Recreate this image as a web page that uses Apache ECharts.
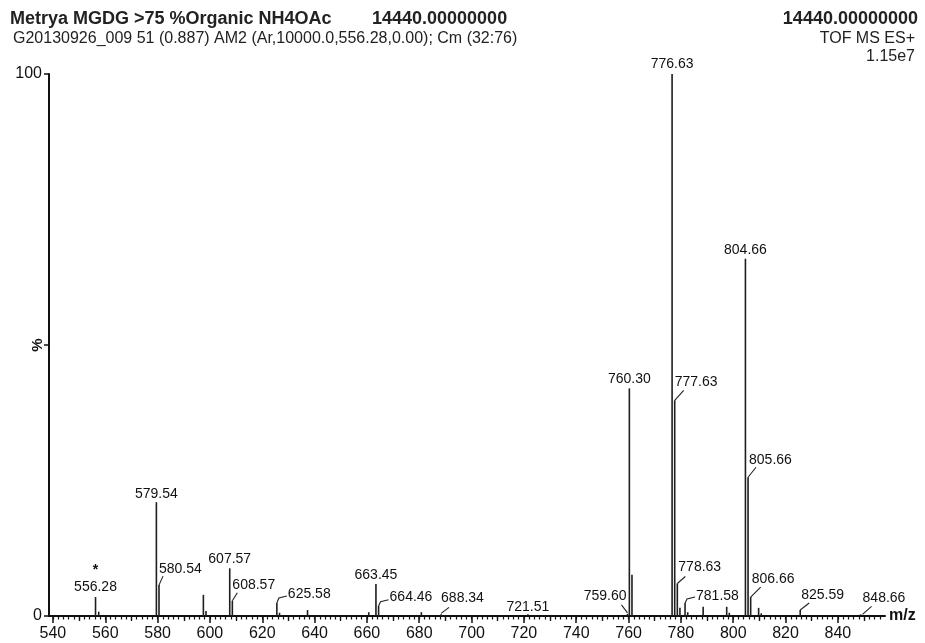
<!DOCTYPE html>
<html>
<head>
<meta charset="utf-8">
<script src="https://cdn.jsdelivr.net/npm/echarts@6/dist/echarts.min.js"></script>
<style>html,body{margin:0;padding:0;background:#fff}#c{width:925px;height:643px}</style>
</head>
<body>
<div id="c"></div>
<script>
// ---- data ----
const peakMz = [556.28, 557.50, 579.54, 580.54, 597.50, 598.50, 607.57, 608.57, 625.58, 626.60,
  637.30, 660.70, 663.45, 664.46, 680.80, 688.34, 721.51, 759.60, 760.30, 761.30,
  776.63, 777.63, 778.63, 779.63, 781.58, 782.60, 788.50, 797.50, 798.50, 804.66,
  805.66, 806.66, 809.70, 810.70, 825.59, 848.66];
const peakPct = [3.5, 0.8, 21.0, 5.7, 3.9, 0.9, 8.8, 2.8, 2.4, 0.6,
  1.1, 0.7, 5.9, 1.9, 0.7, 0.3, 0.3, 0.4, 42.0, 7.6,
  100, 39.8, 6.0, 1.5, 2.4, 0.7, 1.7, 1.7, 0.6, 65.9,
  25.6, 3.5, 1.5, 0.5, 1.1, 0.3];
const labelledMz = [556.28, 579.54, 580.54, 607.57, 608.57, 625.58, 663.45, 664.46, 688.34, 721.51,
  759.60, 760.30, 776.63, 777.63, 778.63, 781.58, 804.66, 805.66, 806.66, 825.59, 848.66];
const markedMz = [556.28];               // peaks flagged with an asterisk
const xMajorTicks = [540, 560, 580, 600, 620, 640, 660, 680, 700, 720, 740, 760, 780, 800, 820, 840];
const yTicks = [0, 50, 100];
const yLabelTicks = [0, 100];
const headerLeft1 = 'Metrya MGDG >75 %Organic NH4OAc';
const headerMid1 = '14440.00000000';
const headerRight1 = '14440.00000000';
const headerLeft2 = 'G20130926_009 51 (0.887) AM2 (Ar,10000.0,556.28,0.00); Cm (32:76)';
const headerRight2 = 'TOF MS ES+';
const headerRight3 = '1.15e7';
const xName = 'm/z';
const yName = '%';

// ---- label layout (styles, pixel offsets from the stick top) ----
const labelLayout = {
  '556.28': {mode: 'top', dy: -9.5},
  '579.54': {mode: 'top', dy: -8},
  '580.54': {lead: [[0, 0], [4, -9]], dx: 0, dy: -16},
  '607.57': {mode: 'top', dy: -9},
  '608.57': {lead: [[0, 0], [5, -8]], dx: 0, dy: -15.5},
  '625.58': {lead: [[0, 0], [2, -5], [10, -7]], dx: 11, dy: -9},
  '663.45': {mode: 'top', dy: -8.5},
  '664.46': {lead: [[0, 0], [2, -4], [10, -6]], dx: 11, dy: -8.5},
  '688.34': {lead: [[0, -1], [8, -7]], dx: 0, dy: -16.5},
  '721.51': {mode: 'top', dy: -7},
  '759.60': {lead: [[0, -1], [-6, -9]], dx: -1, dy: -17.5, align: 'right'},
  '760.30': {mode: 'top', dy: -9},
  '776.63': {mode: 'top', dy: -10},
  '777.63': {lead: [[0, 0], [9, -10]], dx: 0, dy: -18},
  '778.63': {lead: [[0, 0], [8, -7]], dx: 1, dy: -16.5},
  '781.58': {lead: [[0, 0], [2, -4], [10, -6]], dx: 11, dy: -7},
  '804.66': {mode: 'top', dy: -9},
  '805.66': {lead: [[0, 0], [8, -10]], dx: 1, dy: -17.5},
  '806.66': {lead: [[0, 0], [10, -10]], dx: 1, dy: -18},
  '825.59': {lead: [[0, 0], [9, -7]], dx: 1, dy: -15},
  '848.66': {lead: [[2, 0], [11, -8]], dx: 2, dy: -16.5}
};

const FONT = '"Liberation Sans", Arial, Helvetica, sans-serif';
const INK = '#111';
const X_MIN = 538.5, X_MAX = 858;

const peakData = peakMz.map((m, i) => [m, peakPct[i]]);
const labelData = labelledMz.map(m => [m, peakPct[peakMz.indexOf(m)]]);

function range(a, b, step) { const r = []; for (let v = a; v <= b + 1e-9; v += step) r.push(+v.toFixed(3)); return r; }
const xMidTicks = range(550, 850, 20);
const xMinorTicks = range(540, 856, 2);

function xAxisBase(extra) {
  return Object.assign({
    type: 'value', min: X_MIN, max: X_MAX, position: 'bottom',
    splitLine: {show: false}, axisLine: {show: false},
    axisLabel: {show: false}, axisTick: {show: false}
  }, extra);
}

const chart = echarts.init(document.getElementById('c'), null, {renderer: 'canvas'});
chart.setOption({
  animation: false,
  backgroundColor: '#fff',
  grid: {left: 49, right: 40, top: 74, bottom: 27, containLabel: false, outerBoundsMode: 'none'},
  xAxis: [
    xAxisBase({
      name: xName, nameLocation: 'end', nameGap: 4,
      nameTextStyle: {color: INK, fontFamily: FONT, fontSize: 16, fontWeight: 'bold', verticalAlign: 'middle'},
      axisLine: {show: true, onZero: false, lineStyle: {color: INK, width: 2}},
      axisTick: {show: true, customValues: xMajorTicks, length: 7, lineStyle: {color: INK, width: 1.5}},
      axisLabel: {show: true, customValues: xMajorTicks, margin: 10, color: INK, fontFamily: FONT, fontSize: 16}
    }),
    xAxisBase({axisTick: {show: true, customValues: xMidTicks, length: 5, lineStyle: {color: INK, width: 1.3}}}),
    xAxisBase({axisTick: {show: true, customValues: xMinorTicks, length: 3.5, lineStyle: {color: INK, width: 1.2}}})
  ],
  yAxis: {
    type: 'value', min: 0, max: 100,
    name: yName, nameLocation: 'middle', nameRotate: 90, nameGap: 4, nameMoveOverlap: false,
    nameTextStyle: {color: INK, fontFamily: FONT, fontSize: 15, fontWeight: 'bold'},
    splitLine: {show: false},
    axisLine: {show: true, lineStyle: {color: INK, width: 2}},
    axisTick: {show: true, customValues: yTicks, length: 5, lineStyle: {color: INK, width: 1.5}},
    axisLabel: {show: true, customValues: yLabelTicks, margin: 7, color: INK, fontFamily: FONT, fontSize: 16}
  },
  graphic: [
    {type: 'text', left: 10, top: 10, style: {text: headerLeft1, font: 'bold 18px ' + FONT, fill: '#222'}},
    {type: 'text', left: 372, top: 10, style: {text: headerMid1, font: 'bold 18px ' + FONT, fill: '#222'}},
    {type: 'text', right: 7, top: 10, style: {text: headerRight1, font: 'bold 18px ' + FONT, fill: '#222'}},
    {type: 'text', left: 13, top: 31, style: {text: headerLeft2, font: '16px ' + FONT, fill: '#222'}},
    {type: 'text', right: 10, top: 31, style: {text: headerRight2, font: '16px ' + FONT, fill: '#222'}},
    {type: 'text', right: 10, top: 49, style: {text: headerRight3, font: '16px ' + FONT, fill: '#222'}}
  ],
  series: [
    {
      type: 'custom', name: 'spectrum', xAxisIndex: 0, yAxisIndex: 0,
      data: peakData, encode: {x: 0, y: 1}, silent: true,
      renderItem: function (params, api) {
        const m = api.value(0), v = api.value(1);
        const b = api.coord([m, 0]);
        const t = api.coord([m, v]);
        return {type: 'line', shape: {x1: b[0], y1: b[1], x2: t[0], y2: t[1]},
          style: {stroke: '#1e1e1e', lineWidth: 1.6}};
      }
    },
    {
      type: 'custom', name: 'labels', xAxisIndex: 0, yAxisIndex: 0,
      data: labelData, encode: {x: 0, y: 1}, silent: true, clip: false,
      renderItem: function (params, api) {
        const m = api.value(0), v = api.value(1);
        const p = api.coord([m, v]);
        const txt = labelledMz[params.dataIndex].toFixed(2);
        const L = labelLayout[txt] || {mode: 'top', dy: -9};
        const children = [];
        if (L.lead) {
          children.push({type: 'polyline',
            shape: {points: L.lead.map(q => [p[0] + q[0], p[1] + q[1]])},
            style: {stroke: '#222', lineWidth: 1.1, fill: null}});
          children.push({type: 'text', x: p[0] + L.dx, y: p[1] + L.dy,
            style: {text: txt, font: '14px ' + FONT, fill: INK,
              align: L.align || 'left', verticalAlign: 'middle',
              textAlign: L.align || 'left', textVerticalAlign: 'middle'}});
        } else {
          children.push({type: 'text', x: p[0], y: p[1] + L.dy,
            style: {text: txt, font: '14px ' + FONT, fill: INK,
              align: 'center', verticalAlign: 'middle',
              textAlign: 'center', textVerticalAlign: 'middle'}});
        }
        if (markedMz.indexOf(m) >= 0) {
          children.push({type: 'text', x: p[0], y: p[1] - 27,
            style: {text: '*', font: 'bold 14px ' + FONT, fill: INK,
              align: 'center', verticalAlign: 'middle',
              textAlign: 'center', textVerticalAlign: 'middle'}});
        }
        return {type: 'group', children: children};
      }
    }
  ]
});
</script>
</body>
</html>
